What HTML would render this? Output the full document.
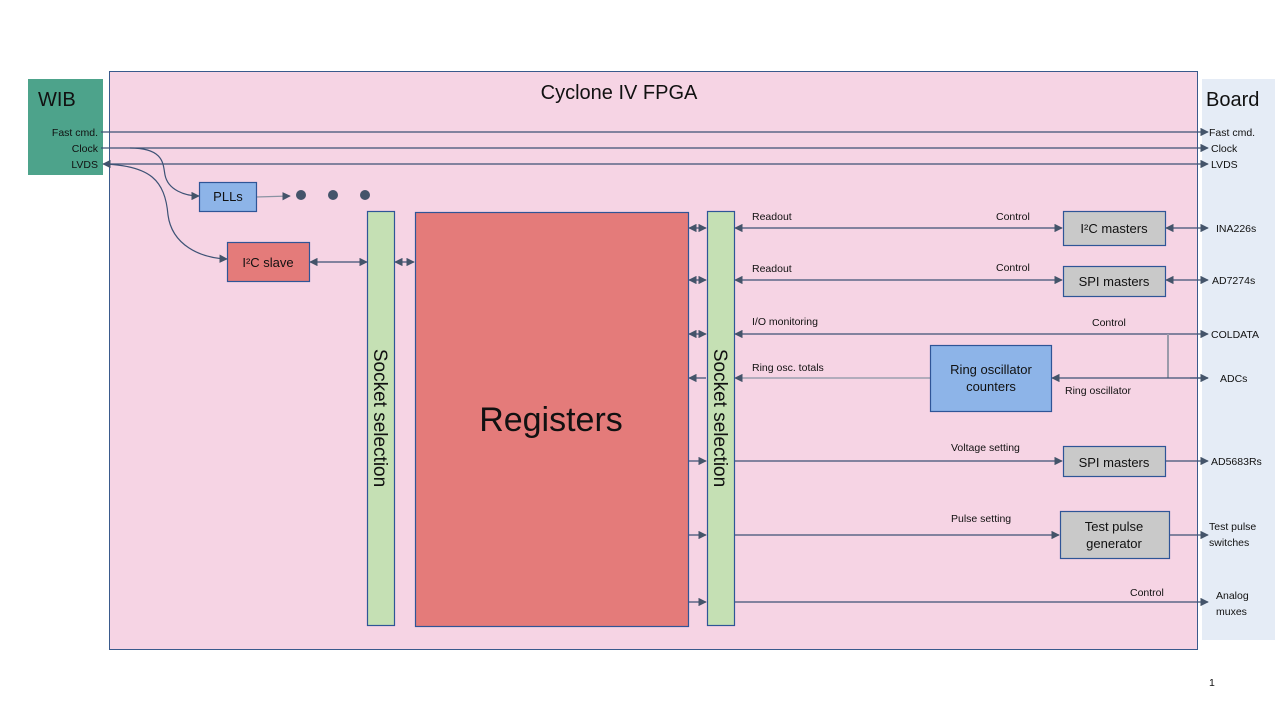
<!DOCTYPE html>
<html><head><meta charset="utf-8"><style>html,body{margin:0;padding:0;background:#fff}svg{display:block}text{font-family:"Liberation Sans",sans-serif;fill:#111}</style></head>
<body>
<svg width="1280" height="720" viewBox="0 0 1280 720" xmlns="http://www.w3.org/2000/svg">
<defs>
<marker id="a" viewBox="0 0 10 10" refX="9" refY="5" markerWidth="7" markerHeight="7" orient="auto-start-reverse"><path d="M0 0L10 5L0 10z" fill="#44546a"/></marker>
</defs>
<rect x="1202" y="79" width="73" height="561" fill="#e5ecf6"/>
<rect x="109.5" y="71.5" width="1088" height="578" fill="#f6d4e4" stroke="#3a5a8c"/>
<rect x="28" y="79" width="75" height="96" fill="#4da38b"/>
<text x="38" y="106" font-size="20">WIB</text>
<text x="1206" y="106" font-size="20">Board</text>
<text x="619" y="99" font-size="20" text-anchor="middle">Cyclone IV FPGA</text>
<g font-size="10.5" text-anchor="end">
<text x="98" y="136">Fast cmd.</text><text x="98" y="152">Clock</text><text x="98" y="168">LVDS</text>
</g>
<g stroke="#3d5275" stroke-width="1.2" fill="none">
<line x1="101" y1="132" x2="1208" y2="132" marker-end="url(#a)"/>
<line x1="101" y1="148" x2="1208" y2="148" marker-end="url(#a)"/>
<line x1="103" y1="164" x2="1208" y2="164" marker-start="url(#a)" marker-end="url(#a)"/>
<path d="M130 148C165 148 163 165 165 175C168 190 185 196 199 196" marker-end="url(#a)"/>
<path d="M105 164C150 166 165 180 168 215C172 245 200 258 227 259" marker-end="url(#a)"/>
<line x1="256" y1="197" x2="290" y2="196" stroke="#8a93a3" marker-end="url(#a)"/>
<line x1="310" y1="262" x2="367" y2="262" marker-start="url(#a)" marker-end="url(#a)"/>
<line x1="395" y1="262" x2="414" y2="262" marker-start="url(#a)" marker-end="url(#a)"/>
<line x1="689" y1="228" x2="706" y2="228" marker-start="url(#a)" marker-end="url(#a)"/>
<line x1="689" y1="280" x2="706" y2="280" marker-start="url(#a)" marker-end="url(#a)"/>
<line x1="689" y1="334" x2="706" y2="334" marker-start="url(#a)" marker-end="url(#a)"/>
<line x1="706" y1="378" x2="689" y2="378" marker-end="url(#a)"/>
<line x1="689" y1="461" x2="706" y2="461" marker-end="url(#a)"/>
<line x1="689" y1="535" x2="706" y2="535" marker-end="url(#a)"/>
<line x1="689" y1="602" x2="706" y2="602" marker-end="url(#a)"/>
<line x1="735" y1="228" x2="1062" y2="228" marker-start="url(#a)" marker-end="url(#a)"/>
<line x1="1166" y1="228" x2="1208" y2="228" marker-start="url(#a)" marker-end="url(#a)"/>
<line x1="735" y1="280" x2="1062" y2="280" marker-start="url(#a)" marker-end="url(#a)"/>
<line x1="1166" y1="280" x2="1208" y2="280" marker-start="url(#a)" marker-end="url(#a)"/>
<line x1="735" y1="334" x2="1208" y2="334" marker-start="url(#a)" marker-end="url(#a)"/>
<line x1="1168" y1="334" x2="1168" y2="378" stroke="#9a9aaa" stroke-width="2"/>
<line x1="1208" y1="378" x2="1052" y2="378" marker-end="url(#a)"/>
<line x1="1190" y1="378" x2="1208" y2="378" marker-end="url(#a)"/>
<line x1="930" y1="378" x2="735" y2="378" stroke="#8a93a3" marker-end="url(#a)"/>
<line x1="735" y1="461" x2="1062" y2="461" marker-end="url(#a)"/>
<line x1="1166" y1="461" x2="1208" y2="461" marker-end="url(#a)"/>
<line x1="735" y1="535" x2="1059" y2="535" marker-end="url(#a)"/>
<line x1="1170" y1="535" x2="1208" y2="535" marker-end="url(#a)"/>
<line x1="735" y1="602" x2="1208" y2="602" marker-end="url(#a)"/>
</g>
<g fill="#44546a"><circle cx="301" cy="195" r="5"/><circle cx="333" cy="195" r="5"/><circle cx="365" cy="195" r="5"/></g>
<g stroke="#2f5597" stroke-width="1.2">
<rect x="199.5" y="182.5" width="57" height="29" fill="#8db4e8"/>
<rect x="227.5" y="242.5" width="82" height="39" fill="#e47b7a"/>
<rect x="367.5" y="211.5" width="27" height="414" fill="#c5e0b4"/>
<rect x="415.5" y="212.5" width="273" height="414" fill="#e47b7a"/>
<rect x="707.5" y="211.5" width="27" height="414" fill="#c5e0b4"/>
<rect x="1063.5" y="211.5" width="102" height="34" fill="#c9c9c9"/>
<rect x="1063.5" y="266.5" width="102" height="30" fill="#c9c9c9"/>
<rect x="930.5" y="345.5" width="121" height="66" fill="#8db4e8"/>
<rect x="1063.5" y="446.5" width="102" height="30" fill="#c9c9c9"/>
<rect x="1060.5" y="511.5" width="109" height="47" fill="#c9c9c9"/>
</g>
<g font-size="13" text-anchor="middle">
<text x="228" y="201">PLLs</text>
<text x="268" y="267">I²C slave</text>
<text x="1114" y="233">I²C masters</text>
<text x="1114" y="286">SPI masters</text>
<text x="991" y="374">Ring oscillator</text>
<text x="991" y="391">counters</text>
<text x="1114" y="467">SPI masters</text>
<text x="1114" y="531">Test pulse</text>
<text x="1114" y="548">generator</text>
</g>
<text x="551" y="431" font-size="34" text-anchor="middle">Registers</text>
<text transform="translate(374,418) rotate(90)" font-size="19" text-anchor="middle">Socket selection</text>
<text transform="translate(714,418) rotate(90)" font-size="19" text-anchor="middle">Socket selection</text>
<g font-size="10.5">
<text x="752" y="220">Readout</text><text x="996" y="220">Control</text>
<text x="752" y="272">Readout</text><text x="996" y="271">Control</text>
<text x="752" y="325">I/O monitoring</text><text x="1092" y="326">Control</text>
<text x="752" y="371">Ring osc. totals</text><text x="1065" y="394">Ring oscillator</text>
<text x="951" y="451">Voltage setting</text>
<text x="951" y="522">Pulse setting</text>
<text x="1130" y="596">Control</text>
<text x="1216" y="232">INA226s</text>
<text x="1212" y="284">AD7274s</text>
<text x="1211" y="338">COLDATA</text>
<text x="1220" y="382">ADCs</text>
<text x="1211" y="465">AD5683Rs</text>
<text x="1209" y="530">Test pulse</text><text x="1209" y="546">switches</text>
<text x="1216" y="599">Analog</text><text x="1216" y="615">muxes</text>
<text x="1209" y="136">Fast cmd.</text><text x="1211" y="152">Clock</text><text x="1211" y="168">LVDS</text>
<text x="1209" y="686">1</text>
</g>
</svg>
</body></html>
